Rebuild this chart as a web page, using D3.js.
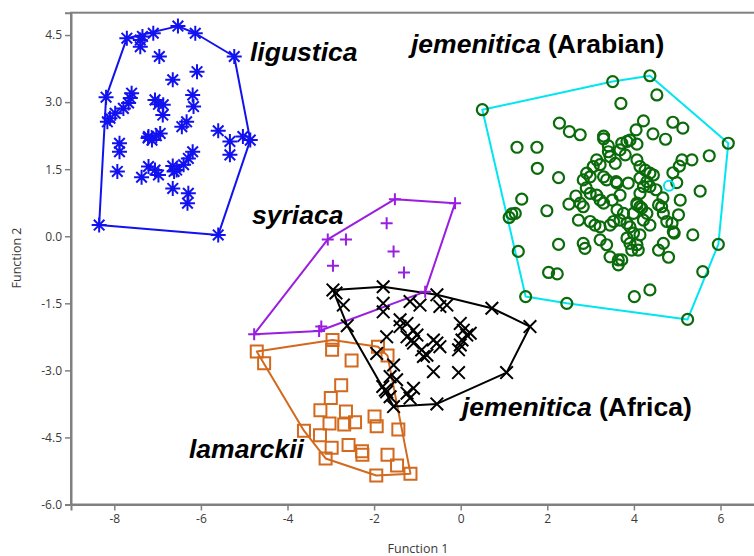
<!DOCTYPE html>
<html><head><meta charset="utf-8">
<script src="https://cdn.jsdelivr.net/npm/d3@7"></script>
<style>html,body{margin:0;padding:0;background:#fff;overflow:hidden}</style>
</head><body>
<svg id="c" width="754" height="556"></svg>
<script>
// ---- data (Function 1, Function 2) ----
const xTicks = [-8, -6, -4, -2, 0, 2, 4, 6];
const yTicks = [-6, -4.5, -3, -1.5, 0, 1.5, 3, 4.5];

const ligustica = [[-8.35,0.25],[-8.19,3.11],[-8.16,2.56],[-7.71,4.43],[-7.10,4.54],[-6.53,4.70],[-6.13,4.54],[-5.23,4.02],[-4.86,2.15],[-5.60,0.03],
[-7.40,4.39],[-7.40,4.24],[-7.35,4.47],[-6.96,4.02],[-6.65,3.50],[-6.09,3.68],[-7.60,3.20],[-7.63,3.09],[-7.67,2.98],[-7.79,2.86],[-7.98,2.75],[-8.10,2.64],[-7.06,3.05],[-6.87,2.94],[-6.88,2.71],[-6.19,3.16],[-6.17,2.90],[-6.44,2.45],[-6.33,2.56],[-5.60,2.36],[-5.33,2.12],[-5.03,2.23],[-5.33,1.82],[-7.88,2.08],[-7.88,1.89],[-7.93,1.45],[-7.21,2.23],[-7.13,2.15],[-6.94,2.30],[-7.03,2.25],[-7.37,1.32],[-7.21,1.56],[-7.06,1.48],[-6.98,1.37],[-6.65,1.57],[-6.56,1.48],[-6.40,1.60],[-6.29,1.74],[-6.19,1.89],[-6.65,1.07],[-6.29,0.96],[-6.31,0.74],[-6.62,1.45],[-7.22,2.20],[-6.98,2.95]];

const arabian = [[0.50,2.83],[3.51,3.46],[4.37,3.59],[6.18,2.08],[5.95,-0.18],[5.24,-1.86],[1.50,-1.35],[1.12,0.42],[1.33,-0.34],
[2.45,-1.50],[4.53,3.16],[3.70,2.97],[2.28,2.53],[2.51,2.34],[2.76,2.27],[1.30,1.99],[1.76,1.99],[1.77,1.52],[2.26,1.31],[1.41,0.83],[1.18,0.50],[1.99,0.57],[2.50,0.72],[2.26,-0.18],[2.03,-0.81],[2.23,-0.84],
[3.30,2.24],[3.30,2.18],[4.22,2.58],[4.05,2.38],[4.90,2.55],[5.13,2.42],[4.44,2.29],[4.73,2.17],[3.72,2.08],[3.91,2.15],[4.07,2.06],[3.84,2.12],[5.74,1.80],[5.34,1.71],[5.11,1.71],[5.05,1.57],[4.90,1.42],[4.99,1.20],[5.53,1.01],[5.07,0.81],
[4.07,1.71],[4.14,1.56],[4.26,1.48],[4.37,1.41],[4.45,1.37],[4.14,1.30],[4.30,1.22],[4.37,1.11],[3.87,1.19],[3.59,1.22],[4.14,0.96],[4.57,0.70],[4.64,0.66],[4.07,0.70],[4.18,0.63],[4.30,0.51],[5.03,0.48],[4.76,0.33],[4.88,0.29],[4.93,0.07],[5.36,0.03],[4.68,-0.16],[4.57,-0.31],[4.80,-0.47],[4.07,-0.19],[3.95,-0.31],[4.10,-0.31],[3.99,0.07],[3.84,-0.04],[3.64,-0.53],[3.64,-0.64],[3.45,-0.46],[5.59,-0.79],[4.37,-1.20],[4.01,-1.35],
[3.41,1.89],[3.45,1.78],[3.14,1.71],[3.06,1.56],[3.22,1.60],[3.57,1.63],[2.91,1.41],[2.99,1.33],[2.83,1.26],[3.30,1.33],[3.37,1.26],[3.61,1.19],[4.22,1.11],[2.76,0.74],[2.83,0.66],[3.22,0.81],[3.30,0.74],[2.99,0.96],[3.14,0.92],[3.61,0.59],[3.76,0.51],[3.68,0.36],[3.53,0.33],[3.45,0.25],[4.07,0.74],[4.14,0.66],[3.99,0.51],[4.68,0.51],[2.72,0.36],[2.99,0.33],[3.10,0.25],[3.22,0.21],[3.84,0.29],[3.91,0.21],[4.22,0.36],[4.37,0.25],[4.14,0.03],[3.91,-0.16],[4.91,0.10],[2.83,-0.16],[2.87,-0.27],[3.22,-0.08],[3.37,-0.19],[3.72,-0.53],[1.26,0.51],[3.41,2.02],[3.68,1.93],[3.80,1.82],[2.90,1.08],[2.66,0.90],[4.51,1.04],[4.67,0.86],[3.68,0.92],[3.50,0.81]];
const arabianCentroid = [[4.81,1.13]];

const syriaca = [[-1.52,0.83],[-0.13,0.74],[-1.71,0.29],[-3.07,-0.07],[-2.65,-0.07],[-2.95,-0.66],[-1.55,-0.34],[-1.31,-0.81],[-4.77,-2.19],[-3.22,-2.02],[-3.27,-2.12],[-0.82,-1.24]];

const africa = [[-2.95,-1.20],[-2.88,-1.27],[-1.79,-1.13],[-0.55,-1.31],[0.72,-1.61],[1.60,-2.02],[1.06,-3.05],[-0.55,-3.75],[-1.55,-3.81],[-2.71,-1.54],[-2.62,-2.00],[-1.79,-1.69],[-1.17,-1.46],[-0.94,-1.54],[-0.48,-1.57],[-0.32,-1.54],[-1.40,-2.02],[-1.24,-1.95],[-1.09,-2.10],[-1.01,-2.21],[-1.71,-2.25],[-1.94,-2.62],[-1.24,-2.25],[-1.09,-2.39],[-0.90,-2.54],[-0.78,-2.66],[-0.63,-2.32],[-0.55,-2.39],[-0.48,-2.47],[-0.01,-1.95],[0.06,-2.10],[0.14,-2.21],[0.03,-2.32],[0.22,-2.17],[-0.01,-2.43],[-0.63,-3.03],[-0.05,-3.05],[-1.55,-2.88],[-1.63,-3.14],[-1.48,-3.21],[-1.80,-3.36],[-1.71,-3.48],[-1.24,-3.51],[-1.09,-3.40],[-1.17,-3.62],[-1.13,-2.32],[-0.05,-2.54],[-0.86,-2.69],[-1.40,-1.87],[-1.74,-3.44],[-1.63,-3.59],[-1.79,-1.50]];

const lamarckii = [[-4.71,-2.58],[-4.54,-2.84],[-2.96,-2.32],[-2.97,-2.54],[-1.91,-2.47],[-1.69,-2.67],[-2.52,-2.78],[-2.76,-3.33],[-3.00,-3.62],[-3.24,-3.89],[-2.65,-3.92],[-3.03,-4.19],[-2.69,-4.21],[-2.44,-4.16],[-1.99,-4.03],[-1.94,-4.25],[-1.44,-4.32],[-3.62,-4.35],[-3.25,-4.45],[-2.98,-4.73],[-2.59,-4.67],[-2.28,-4.81],[-2.27,-4.89],[-3.12,-4.97],[-1.69,-4.89],[-1.47,-5.13],[-1.95,-5.35],[-1.16,-5.31]];

const groupLabels = ["ligustica", "jemenitica", "syriaca", "jemenitica", "lamarckii"];
const groupSuffix = ["", " (Arabian)", "", " (Africa)", ""];

// ---- layout ----
const svg = d3.select("#c");
const x = d3.scaleLinear().domain([-9, 7]).range([71, 763.8]);
const y = d3.scaleLinear().domain([-6, 5]).range([504.5, 12.7]);
const axisColor = "#808080";

// frame
svg.append("rect").attr("x", x(-9)).attr("y", y(5))
  .attr("width", x(7) - x(-9)).attr("height", y(-6) - y(5))
  .attr("fill", "none").attr("stroke", axisColor).attr("stroke-width", 2);

// symbols
function symPath(type, r) {
  if (type === "asterisk") {
    const d = r * Math.SQRT1_2;
    return `M${-r},0L${r},0M0,${-r}L0,${r}M${-d},${-d}L${d},${d}M${-d},${d}L${d},${-d}`;
  }
  if (type === "plus") return `M${-r},0L${r},0M0,${-r}L0,${r}`;
  if (type === "cross") return `M${-r},${-r}L${r},${r}M${-r},${r}L${r},${-r}`;
  if (type === "square") return `M${-r},${-r}H${r}V${r}H${-r}Z`;
  if (type === "circle") return `M${r},0A${r},${r} 0 1,1 ${-r},0A${r},${r} 0 1,1 ${r},0Z`;
}

const groups = [
  {data: lamarckii, color: "#d2691e", hull: "#d2691e", sym: "square", r: 6, sw: 2},
  {data: syriaca, color: "#9a1ee0", hull: "#9a1ee0", sym: "plus", r: 6, sw: 2},
  {data: africa, color: "#000000", hull: "#000000", sym: "cross", r: 6.3, sw: 2},
  {data: ligustica, color: "#1212f0", hull: "#1212f0", sym: "asterisk", r: 7.5, sw: 2},
  {data: arabian, color: "#0b6b0b", hull: "#00e6f0", sym: "circle", r: 5.5, sw: 2.2}
];

const line = d3.line();
groups.forEach(g => {
  const pts = g.data.map(d => [x(d[0]), y(d[1])]);
  const hull = d3.polygonHull(pts);
  svg.append("path").attr("d", line(hull) + "Z")
    .attr("fill", "none").attr("stroke", g.hull).attr("stroke-width", 2)
    .attr("stroke-linejoin", "round");
});
groups.forEach(g => {
  svg.append("g").selectAll("path").data(g.data).join("path")
    .attr("transform", d => `translate(${x(d[0])},${y(d[1])})`)
    .attr("d", symPath(g.sym, g.r))
    .attr("fill", "none").attr("stroke", g.color).attr("stroke-width", g.sw);
});
svg.append("g").selectAll("path").data(arabianCentroid).join("path")
  .attr("transform", d => `translate(${x(d[0])},${y(d[1])})`)
  .attr("d", symPath("circle", 5))
  .attr("fill", "none").attr("stroke", "#00e6f0").attr("stroke-width", 2);

// axes
const fmtY = d => d.toFixed(1);
const xAxis = svg.append("g").attr("transform", `translate(0,${y(-6)})`)
  .call(d3.axisBottom(x).tickValues(xTicks).tickFormat(d => String(d)).tickSize(6).tickPadding(4));
const yAxis = svg.append("g").attr("transform", `translate(${x(-9)},0)`)
  .call(d3.axisLeft(y).tickValues(yTicks).tickFormat(fmtY).tickSize(6).tickPadding(3));
[xAxis, yAxis].forEach(a => {
  a.select(".domain").attr("stroke", axisColor).attr("stroke-width", 2);
  a.selectAll(".tick line").attr("stroke", axisColor).attr("stroke-width", 1.5);
  a.selectAll(".tick text").attr("fill", "#3a3a3a")
    .style("font-family", "'Open Sans', 'Noto Sans', sans-serif").style("font-size", "12px");
});

svg.append("text").attr("x", 418).attr("y", 553).attr("text-anchor", "middle")
  .attr("fill", "#3a3a3a").style("font-family", "'Open Sans', 'Noto Sans', sans-serif").style("font-size", "12.5px")
  .text("Function 1");
svg.append("text").attr("transform", "translate(21,258) rotate(-90)").attr("text-anchor", "middle")
  .attr("fill", "#3a3a3a").style("font-family", "'Open Sans', 'Noto Sans', sans-serif").style("font-size", "12.5px")
  .text("Function 2");

// group labels
const labelPos = [[250, 61], [411, 53], [252, 224], [462, 416], [189, 458]];
groupLabels.forEach((t, i) => {
  const tx = svg.append("text").attr("x", labelPos[i][0]).attr("y", labelPos[i][1])
    .style("font-family", "'Liberation Sans', Arial, sans-serif").style("font-size", "26.5px")
    .style("font-weight", "bold").attr("fill", "#000");
  tx.append("tspan").style("font-style", "italic").text(t);
  if (groupSuffix[i]) tx.append("tspan").text(groupSuffix[i]);
});
</script>
</body></html>
